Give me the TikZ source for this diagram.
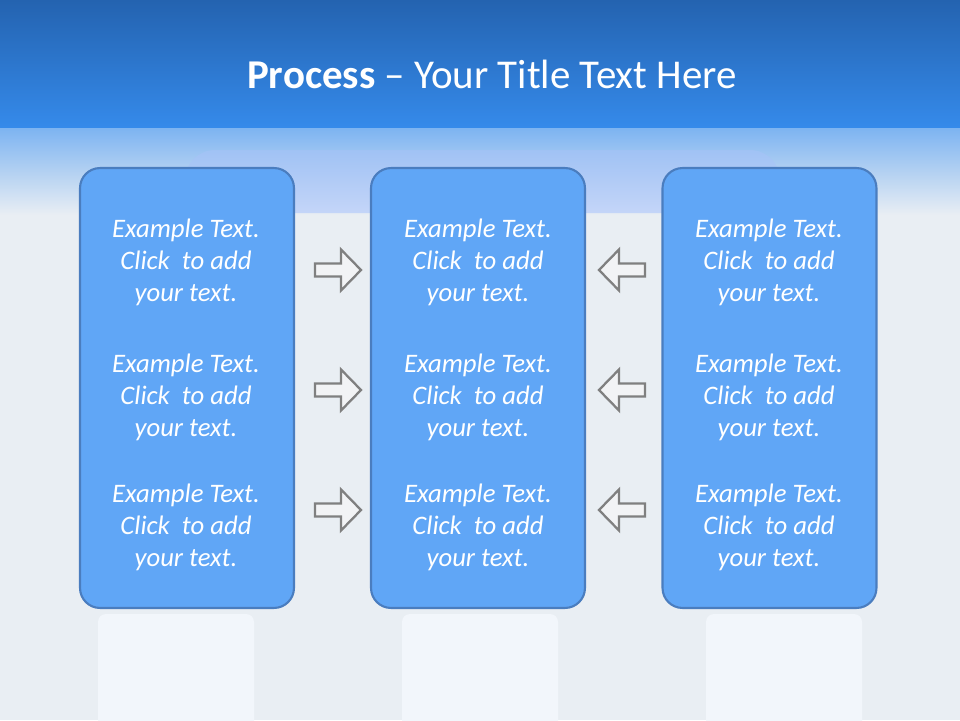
\documentclass[tikz,border=0pt]{standalone}
\usepackage{fontspec}
\setmainfont{Carlito}
\usetikzlibrary{positioning, calc}

\definecolor{bandtop}{HTML}{2463B0}
\definecolor{bandbot}{HTML}{358AEA}
\definecolor{slidebg}{HTML}{E9EEF3}
\definecolor{glow}{HTML}{C4D5F8}
\definecolor{boxfill}{HTML}{60A6F6}
\definecolor{boxline}{HTML}{4A7DBF}
\definecolor{arrowline}{HTML}{808080}
\definecolor{arrowfill}{HTML}{F2F3F5}
\definecolor{stand}{HTML}{F2F6FB}

\begin{document}
\begin{tikzpicture}[x=0.02cm, y=-0.02cm,
  procbox/.style={draw=boxline, line width=1.2pt, fill=boxfill, rounded corners=0.4cm, minimum width=4.28cm, minimum height=8.8cm},
  proctext/.style={text=white, align=center, font=\fontsize{15.2}{18.2}\selectfont\itshape},
  flow/.style={draw=arrowline, line width=1.3pt, fill=arrowfill, line join=miter}]

% Slide background
\useasboundingbox (0,0) rectangle (960,720);
\fill[slidebg] (0,0) rectangle (960,720);
\shade[top color=bandbot!65!white, bottom color=slidebg] (0,127) rectangle (960,215);
\shade[top color=glow!75!bandbot, bottom color=glow, rounded corners=0.6cm]
  (185,213) -- (185,150) -- (780,150) [sharp corners] -- (780,213) -- cycle;
\shade[top color=bandtop, bottom color=bandbot] (0,0) rectangle (960,127);

% Stands below the boxes
\foreach \sx in {98, 402, 706}
  \fill[stand, rounded corners=0.16cm] (\sx,614) rectangle (\sx+156,740);

% Title
\node[anchor=base, text=white, font=\fontsize{23.3}{28}\selectfont] (title) at (492,88)
  {\textbf{Process} -- Your Title Text Here};

% Process boxes
\node[procbox] (left) at (187,388) {};
\node[procbox] (middle) at (478,388) {};
\node[procbox] (right) at (769.5,388) {};

% Box texts
\foreach \row/\ty in {1/262, 2/397, 3/527} {
  \node[proctext] (lefttext\row) at (186,\ty) {Example Text.\\Click~ to add\\your text.};
  \node[proctext] (middletext\row) at (478,\ty) {Example Text.\\Click~ to add\\your text.};
  \node[proctext] (righttext\row) at (769,\ty) {Example Text.\\Click~ to add\\your text.};
}

% Arrows into the middle box
\foreach \ay in {270, 390, 510} {
  \draw[flow] (315,\ay-6.5) -- (341,\ay-6.5) -- (341,\ay-20.5) -- (361,\ay)
    -- (341,\ay+20.5) -- (341,\ay+6.5) -- (315,\ay+6.5) -- cycle;
  \draw[flow] (645,\ay-6.5) -- (619,\ay-6.5) -- (619,\ay-20.5) -- (599,\ay)
    -- (619,\ay+20.5) -- (619,\ay+6.5) -- (645,\ay+6.5) -- cycle;
}

\end{tikzpicture}
\end{document}
